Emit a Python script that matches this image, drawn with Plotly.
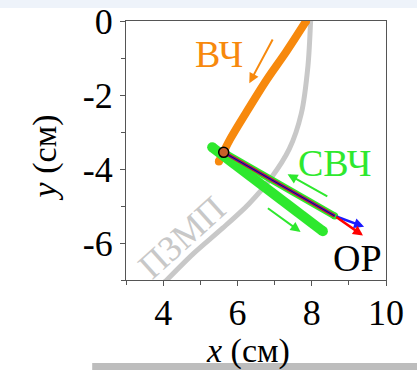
import plotly.graph_objects as go

# ---- data (cm) ----
pzmp_x = [7.97, 7.90, 7.72, 7.40, 6.90, 6.30, 5.60, 4.80, 4.05]
pzmp_y = [0.0, -1.20, -2.50, -3.45, -4.25, -4.95, -5.60, -6.30, -7.05]

vch_x = [7.85, 7.30, 6.78, 6.25, 5.80, 5.50]
vch_y = [0.0, -0.85, -1.60, -2.45, -3.20, -3.80]

svch_thick_x = [5.32, 8.30]
svch_thick_y = [-3.41, -5.68]

svch_thin_x = [5.63, 8.62]
svch_thin_y = [-3.55, -5.27]

or_x = [5.63, 8.62]
or_y = [-3.55, -5.27]
or_blue_tip = (9.41, -5.56)
or_red_tip = (9.38, -5.80)

start_point = (5.63, -3.55)

arrow_vch = ((6.97, -0.46), (6.32, -1.68))
arrow_svch_up = ((8.46, -4.76), (7.35, -4.14))
arrow_svch_down = ((6.78, -5.03), (7.70, -5.70))

x_ticks = [4, 6, 8, 10]
y_ticks = [0, -2, -4, -6]

ORANGE = "#f7890d"
GREEN = "#2ee82e"
GREY = "#c8c8c8"
FONT = "Liberation Serif"

fig = go.Figure()

def capped_line(x, y, color, width, spline=True):
    fig.add_trace(go.Scatter(x=x, y=y, mode="lines",
                             line=dict(color=color, width=width, shape="spline" if spline else "linear", smoothing=0.8),
                             hoverinfo="skip", showlegend=False))
    fig.add_trace(go.Scatter(x=[x[0], x[-1]], y=[y[0], y[-1]], mode="markers",
                             marker=dict(color=color, size=width, line=dict(width=0)),
                             hoverinfo="skip", showlegend=False))

capped_line(pzmp_x, pzmp_y, GREY, 5)
capped_line(vch_x, vch_y, ORANGE, 8)
capped_line(svch_thick_x, svch_thick_y, GREEN, 10, False)
capped_line(svch_thin_x, svch_thin_y, GREEN, 7, False)

fig.add_trace(go.Scatter(x=or_x, y=or_y, mode="lines", line=dict(color="red", width=3.5),
                         hoverinfo="skip", showlegend=False))
fig.add_trace(go.Scatter(x=or_x, y=or_y, mode="lines", line=dict(color="#1a1aff", width=2),
                         hoverinfo="skip", showlegend=False))
fig.add_trace(go.Scatter(x=or_x, y=or_y, mode="lines", line=dict(color="#3a0a3a", width=1),
                         hoverinfo="skip", showlegend=False))
fig.add_trace(go.Scatter(x=[start_point[0]], y=[start_point[1]], mode="markers",
                         marker=dict(color="#c8602a", size=10, line=dict(color="black", width=1.5)),
                         hoverinfo="skip", showlegend=False))

def arrow(tail, head, color, width=2, size=1.0):
    fig.add_annotation(x=head[0], y=head[1], ax=tail[0], ay=tail[1], xref="x", yref="y",
                       axref="x", ayref="y", text="", showarrow=True, arrowhead=2,
                       arrowsize=size, arrowwidth=width, arrowcolor=color)

arrow(arrow_vch[0], arrow_vch[1], ORANGE, 2)
arrow(arrow_svch_up[0], arrow_svch_up[1], GREEN, 2)
arrow(arrow_svch_down[0], arrow_svch_down[1], GREEN, 2)
arrow((or_x[-1], or_y[-1]), or_blue_tip, "#1a1aff", 2.5, 0.8)
arrow((or_x[-1], or_y[-1]), or_red_tip, "red", 2.5, 0.8)

def label(x, y, text, color, angle=0, size=38):
    fig.add_annotation(x=x, y=y, xref="x", yref="y", text=text, showarrow=False,
                       xanchor="center", yanchor="middle",
                       textangle=angle, font=dict(family=FONT, size=size, color=color))

label(5.51, -0.90, "ВЧ", ORANGE)
label(8.62, -3.85, "СВЧ", GREEN)
label(9.24, -6.40, "ОР", "black")
label(4.52, -5.85, "ПЗМП", GREY, angle=-42, size=36)

# axis titles placed as paper annotations
fig.add_annotation(x=0.469, y=-0.275, xref="paper", yref="paper", text="<i>x</i> (см)", showarrow=False,
                   xanchor="center", yanchor="middle", font=dict(family=FONT, size=34, color="black"))
fig.add_annotation(x=-0.31, y=0.475, xref="paper", yref="paper", text="<i>y</i> (см)", showarrow=False,
                   xanchor="center", yanchor="middle", textangle=-90,
                   font=dict(family=FONT, size=34, color="black"))

axis_common = dict(showgrid=False, zeroline=False, showline=True, linecolor="#555555", linewidth=1,
                   mirror=True, ticks="outside", ticklen=5, tickcolor="#555555", automargin=False,
                   tickfont=dict(family=FONT, size=36, color="black"),
                   minor=dict(ticks="outside", ticklen=4, tickcolor="#555555", dtick=1))

fig.update_xaxes(range=[3, 10], tickvals=x_ticks, ticktext=[str(v) for v in x_ticks],
                 ticklabelstandoff=-4, **axis_common)
fig.update_yaxes(range=[-7, 0], tickvals=y_ticks, ticktext=[str(v) for v in y_ticks], **axis_common)

fig.update_layout(width=417, height=370, margin=dict(l=126, r=31, t=21, b=90, autoexpand=False),
                  paper_bgcolor="white", plot_bgcolor="white",
                  shapes=[dict(type="rect", xref="paper", yref="paper", x0=-0.49, x1=1.12, y0=1.05, y1=1.09,
                               fillcolor="#eef3fa", line=dict(width=0), layer="below"),
                          dict(type="rect", xref="paper", yref="paper", x0=-0.13, x1=1.12, y0=-0.35, y1=-0.32,
                               fillcolor="#bdbdbd", line=dict(width=0))])

fig.write_html("out.html", config={"displayModeBar": False},
               post_script="document.body.style.margin='0px';")
